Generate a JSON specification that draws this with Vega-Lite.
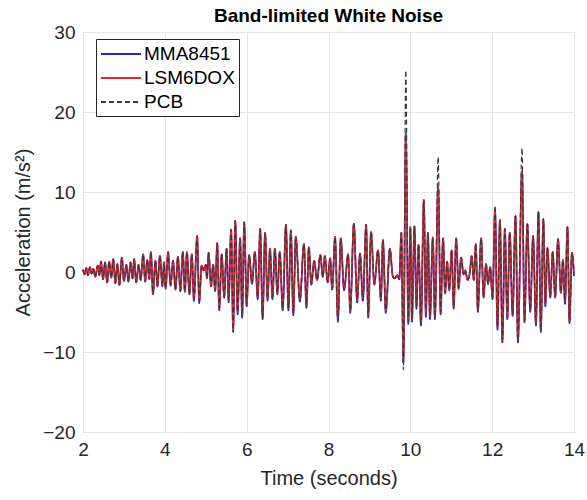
{
"$schema": "https://vega.github.io/schema/vega-lite/v6.json",
"width": 491, "height": 400,
"autosize": {"type": "none"},
"padding": {"left": 83, "top": 32, "right": 13, "bottom": 68},
"background": "white",
"title": {"text": "Band-limited White Noise", "font": "Liberation Sans", "fontSize": 19, "fontWeight": "bold", "color": "#000000", "anchor": "middle", "offset": -3},
"data": {"values": [
{"t":2.00,"MMA8451":0.3,"LSM6DOX":0.3,"PCB":0.3},
{"t":2.04,"MMA8451":-0.3,"LSM6DOX":-0.3,"PCB":-0.3},
{"t":2.08,"MMA8451":0.5,"LSM6DOX":0.5,"PCB":0.5},
{"t":2.12,"MMA8451":-0.4,"LSM6DOX":-0.4,"PCB":-0.4},
{"t":2.17,"MMA8451":0.6,"LSM6DOX":0.6,"PCB":0.6},
{"t":2.21,"MMA8451":-0.2,"LSM6DOX":-0.2,"PCB":-0.2},
{"t":2.25,"MMA8451":0.4,"LSM6DOX":0.4,"PCB":0.4},
{"t":2.30,"MMA8451":-0.6,"LSM6DOX":-0.6,"PCB":-0.6},
{"t":2.36,"MMA8451":0.8,"LSM6DOX":0.8,"PCB":0.8},
{"t":2.40,"MMA8451":-0.4,"LSM6DOX":-0.4,"PCB":-0.4},
{"t":2.44,"MMA8451":1.3,"LSM6DOX":1.3,"PCB":1.3},
{"t":2.49,"MMA8451":-0.9,"LSM6DOX":-0.9,"PCB":-0.9},
{"t":2.54,"MMA8451":1.2,"LSM6DOX":1.2,"PCB":1.2},
{"t":2.59,"MMA8451":-1.3,"LSM6DOX":-1.3,"PCB":-1.3},
{"t":2.64,"MMA8451":1.3,"LSM6DOX":1.3,"PCB":1.3},
{"t":2.69,"MMA8451":-0.7,"LSM6DOX":-0.7,"PCB":-0.7},
{"t":2.74,"MMA8451":1.6,"LSM6DOX":1.6,"PCB":1.6},
{"t":2.79,"MMA8451":-1.4,"LSM6DOX":-1.4,"PCB":-1.4},
{"t":2.84,"MMA8451":1.0,"LSM6DOX":1.0,"PCB":1.0},
{"t":2.89,"MMA8451":-1.6,"LSM6DOX":-1.6,"PCB":-1.6},
{"t":2.95,"MMA8451":1.8,"LSM6DOX":1.8,"PCB":1.8},
{"t":3.00,"MMA8451":-1.1,"LSM6DOX":-1.1,"PCB":-1.1},
{"t":3.06,"MMA8451":0.9,"LSM6DOX":0.9,"PCB":0.9},
{"t":3.11,"MMA8451":-1.2,"LSM6DOX":-1.2,"PCB":-1.2},
{"t":3.16,"MMA8451":1.2,"LSM6DOX":1.2,"PCB":1.2},
{"t":3.21,"MMA8451":-0.8,"LSM6DOX":-0.8,"PCB":-0.8},
{"t":3.25,"MMA8451":1.6,"LSM6DOX":1.6,"PCB":1.6},
{"t":3.30,"MMA8451":-1.3,"LSM6DOX":-1.3,"PCB":-1.3},
{"t":3.36,"MMA8451":0.9,"LSM6DOX":0.9,"PCB":0.9},
{"t":3.41,"MMA8451":-1.0,"LSM6DOX":-1.0,"PCB":-1.0},
{"t":3.47,"MMA8451":2.2,"LSM6DOX":2.2,"PCB":2.2},
{"t":3.52,"MMA8451":-1.2,"LSM6DOX":-1.2,"PCB":-1.2},
{"t":3.57,"MMA8451":1.5,"LSM6DOX":1.5,"PCB":1.5},
{"t":3.62,"MMA8451":-0.9,"LSM6DOX":-0.9,"PCB":-0.9},
{"t":3.66,"MMA8451":2.5,"LSM6DOX":2.5,"PCB":2.5},
{"t":3.71,"MMA8451":-2.8,"LSM6DOX":-2.6,"PCB":-2.6},
{"t":3.77,"MMA8451":1.4,"LSM6DOX":1.4,"PCB":1.4},
{"t":3.82,"MMA8451":-1.8,"LSM6DOX":-1.8,"PCB":-1.8},
{"t":3.88,"MMA8451":2.0,"LSM6DOX":2.0,"PCB":2.0},
{"t":3.94,"MMA8451":-1.8,"LSM6DOX":-1.7,"PCB":-1.7},
{"t":3.98,"MMA8451":1.2,"LSM6DOX":1.2,"PCB":1.2},
{"t":4.02,"MMA8451":-2.1,"LSM6DOX":-2.0,"PCB":-2.0},
{"t":4.08,"MMA8451":2.5,"LSM6DOX":2.5,"PCB":2.5},
{"t":4.14,"MMA8451":-1.7,"LSM6DOX":-1.6,"PCB":-1.6},
{"t":4.20,"MMA8451":1.4,"LSM6DOX":1.4,"PCB":1.4},
{"t":4.26,"MMA8451":-2.2,"LSM6DOX":-2.1,"PCB":-2.1},
{"t":4.32,"MMA8451":1.9,"LSM6DOX":1.9,"PCB":1.9},
{"t":4.38,"MMA8451":-2.4,"LSM6DOX":-2.3,"PCB":-2.3},
{"t":4.44,"MMA8451":2.5,"LSM6DOX":2.5,"PCB":2.5},
{"t":4.49,"MMA8451":-2.5,"LSM6DOX":-2.4,"PCB":-2.4},
{"t":4.54,"MMA8451":2.5,"LSM6DOX":2.5,"PCB":2.5},
{"t":4.60,"MMA8451":-2.8,"LSM6DOX":-2.7,"PCB":-2.7},
{"t":4.66,"MMA8451":2.2,"LSM6DOX":2.2,"PCB":2.2},
{"t":4.71,"MMA8451":-3.6,"LSM6DOX":-3.3,"PCB":-3.3},
{"t":4.79,"MMA8451":4.5,"LSM6DOX":4.5,"PCB":4.5},
{"t":4.84,"MMA8451":-3.9,"LSM6DOX":-3.6,"PCB":-3.6},
{"t":4.90,"MMA8451":0.8,"LSM6DOX":0.8,"PCB":0.8},
{"t":4.95,"MMA8451":0.2,"LSM6DOX":0.2,"PCB":0.2},
{"t":5.00,"MMA8451":0.9,"LSM6DOX":0.9,"PCB":0.9},
{"t":5.03,"MMA8451":-0.8,"LSM6DOX":-0.8,"PCB":-0.8},
{"t":5.07,"MMA8451":2.4,"LSM6DOX":2.4,"PCB":2.4},
{"t":5.13,"MMA8451":-1.8,"LSM6DOX":-1.8,"PCB":-1.8},
{"t":5.18,"MMA8451":0.9,"LSM6DOX":0.9,"PCB":0.9},
{"t":5.23,"MMA8451":-2.4,"LSM6DOX":-2.3,"PCB":-2.3},
{"t":5.28,"MMA8451":3.6,"LSM6DOX":3.6,"PCB":3.6},
{"t":5.33,"MMA8451":-4.8,"LSM6DOX":-4.5,"PCB":-4.5},
{"t":5.39,"MMA8451":2.2,"LSM6DOX":2.2,"PCB":2.2},
{"t":5.45,"MMA8451":-3.2,"LSM6DOX":-3.0,"PCB":-3.0},
{"t":5.51,"MMA8451":2.9,"LSM6DOX":2.9,"PCB":2.9},
{"t":5.56,"MMA8451":-3.8,"LSM6DOX":-3.5,"PCB":-3.5},
{"t":5.62,"MMA8451":5.3,"LSM6DOX":5.3,"PCB":5.3},
{"t":5.67,"MMA8451":-7.5,"LSM6DOX":-7.2,"PCB":-7.2},
{"t":5.72,"MMA8451":6.4,"LSM6DOX":6.4,"PCB":6.4},
{"t":5.78,"MMA8451":-5.3,"LSM6DOX":-5.0,"PCB":-5.0},
{"t":5.84,"MMA8451":4.2,"LSM6DOX":4.2,"PCB":4.2},
{"t":5.89,"MMA8451":-5.7,"LSM6DOX":-5.4,"PCB":-5.4},
{"t":5.94,"MMA8451":6.2,"LSM6DOX":6.2,"PCB":6.2},
{"t":6.00,"MMA8451":-4.3,"LSM6DOX":-4.0,"PCB":-4.0},
{"t":6.06,"MMA8451":2.1,"LSM6DOX":2.1,"PCB":2.1},
{"t":6.13,"MMA8451":-1.5,"LSM6DOX":-1.4,"PCB":-1.4},
{"t":6.20,"MMA8451":2.5,"LSM6DOX":2.5,"PCB":2.5},
{"t":6.27,"MMA8451":-3.4,"LSM6DOX":-3.1,"PCB":-3.1},
{"t":6.33,"MMA8451":5.4,"LSM6DOX":5.4,"PCB":5.4},
{"t":6.39,"MMA8451":-5.9,"LSM6DOX":-5.6,"PCB":-5.6},
{"t":6.45,"MMA8451":4.9,"LSM6DOX":4.9,"PCB":4.9},
{"t":6.51,"MMA8451":-3.6,"LSM6DOX":-3.3,"PCB":-3.3},
{"t":6.57,"MMA8451":2.9,"LSM6DOX":2.9,"PCB":2.9},
{"t":6.63,"MMA8451":-3.4,"LSM6DOX":-3.1,"PCB":-3.1},
{"t":6.69,"MMA8451":2.9,"LSM6DOX":2.9,"PCB":2.9},
{"t":6.75,"MMA8451":-2.8,"LSM6DOX":-2.6,"PCB":-2.6},
{"t":6.81,"MMA8451":2.5,"LSM6DOX":2.5,"PCB":2.5},
{"t":6.88,"MMA8451":-4.8,"LSM6DOX":-4.5,"PCB":-4.5},
{"t":6.96,"MMA8451":5.9,"LSM6DOX":5.9,"PCB":5.9},
{"t":7.02,"MMA8451":-4.8,"LSM6DOX":-4.5,"PCB":-4.5},
{"t":7.08,"MMA8451":5.2,"LSM6DOX":5.2,"PCB":5.2},
{"t":7.14,"MMA8451":-5.4,"LSM6DOX":-5.1,"PCB":-5.1},
{"t":7.20,"MMA8451":4.4,"LSM6DOX":4.4,"PCB":4.4},
{"t":7.30,"MMA8451":-3.7,"LSM6DOX":-3.4,"PCB":-3.4},
{"t":7.40,"MMA8451":3.5,"LSM6DOX":3.5,"PCB":3.5},
{"t":7.46,"MMA8451":-4.5,"LSM6DOX":-4.2,"PCB":-4.2},
{"t":7.52,"MMA8451":3.1,"LSM6DOX":3.1,"PCB":3.1},
{"t":7.58,"MMA8451":-1.6,"LSM6DOX":-1.5,"PCB":-1.5},
{"t":7.65,"MMA8451":1.4,"LSM6DOX":1.4,"PCB":1.4},
{"t":7.72,"MMA8451":-1.0,"LSM6DOX":-1.0,"PCB":-1.0},
{"t":7.80,"MMA8451":2.1,"LSM6DOX":2.1,"PCB":2.1},
{"t":7.86,"MMA8451":-0.6,"LSM6DOX":-0.6,"PCB":-0.6},
{"t":7.91,"MMA8451":2.0,"LSM6DOX":2.0,"PCB":2.0},
{"t":7.98,"MMA8451":-1.3,"LSM6DOX":-1.2,"PCB":-1.2},
{"t":8.04,"MMA8451":1.7,"LSM6DOX":1.7,"PCB":1.7},
{"t":8.09,"MMA8451":-2.2,"LSM6DOX":-2.1,"PCB":-2.1},
{"t":8.16,"MMA8451":4.4,"LSM6DOX":4.4,"PCB":4.4},
{"t":8.23,"MMA8451":-6.1,"LSM6DOX":-5.8,"PCB":-6.3},
{"t":8.30,"MMA8451":4.2,"LSM6DOX":4.2,"PCB":4.2},
{"t":8.38,"MMA8451":-2.3,"LSM6DOX":-2.2,"PCB":-2.2},
{"t":8.48,"MMA8451":2.2,"LSM6DOX":2.2,"PCB":2.2},
{"t":8.53,"MMA8451":-5.1,"LSM6DOX":-4.8,"PCB":-4.8},
{"t":8.62,"MMA8451":6.0,"LSM6DOX":6.0,"PCB":6.2},
{"t":8.70,"MMA8451":-3.8,"LSM6DOX":-3.5,"PCB":-3.5},
{"t":8.77,"MMA8451":2.3,"LSM6DOX":2.3,"PCB":2.3},
{"t":8.84,"MMA8451":-3.6,"LSM6DOX":-3.3,"PCB":-3.3},
{"t":8.92,"MMA8451":5.9,"LSM6DOX":5.9,"PCB":5.9},
{"t":8.97,"MMA8451":-5.7,"LSM6DOX":-5.4,"PCB":-5.4},
{"t":9.04,"MMA8451":5.0,"LSM6DOX":5.0,"PCB":5.0},
{"t":9.12,"MMA8451":-1.6,"LSM6DOX":-1.5,"PCB":-1.5},
{"t":9.21,"MMA8451":2.7,"LSM6DOX":2.7,"PCB":2.7},
{"t":9.28,"MMA8451":-3.6,"LSM6DOX":-3.3,"PCB":-3.3},
{"t":9.33,"MMA8451":4.0,"LSM6DOX":4.0,"PCB":4.0},
{"t":9.40,"MMA8451":-5.1,"LSM6DOX":-4.8,"PCB":-4.8},
{"t":9.50,"MMA8451":2.9,"LSM6DOX":2.9,"PCB":2.9},
{"t":9.57,"MMA8451":-0.5,"LSM6DOX":-0.5,"PCB":-0.5},
{"t":9.62,"MMA8451":-0.8,"LSM6DOX":-0.8,"PCB":-0.8},
{"t":9.68,"MMA8451":-0.4,"LSM6DOX":-0.4,"PCB":-0.4},
{"t":9.73,"MMA8451":-0.9,"LSM6DOX":-0.9,"PCB":-0.9},
{"t":9.78,"MMA8451":4.9,"LSM6DOX":4.9,"PCB":4.9},
{"t":9.83,"MMA8451":-11.3,"LSM6DOX":-11.0,"PCB":-12.2},
{"t":9.89,"MMA8451":17.3,"LSM6DOX":17.0,"PCB":25.2},
{"t":9.95,"MMA8451":-6.5,"LSM6DOX":-6.2,"PCB":-6.2},
{"t":10.00,"MMA8451":5.6,"LSM6DOX":5.6,"PCB":5.6},
{"t":10.04,"MMA8451":-6.2,"LSM6DOX":-5.9,"PCB":-5.9},
{"t":10.10,"MMA8451":5.7,"LSM6DOX":5.7,"PCB":5.7},
{"t":10.15,"MMA8451":-4.6,"LSM6DOX":-4.3,"PCB":-4.3},
{"t":10.20,"MMA8451":3.4,"LSM6DOX":3.4,"PCB":3.4},
{"t":10.26,"MMA8451":-6.7,"LSM6DOX":-6.4,"PCB":-6.4},
{"t":10.33,"MMA8451":9.0,"LSM6DOX":9.0,"PCB":9.0},
{"t":10.38,"MMA8451":-5.6,"LSM6DOX":-5.3,"PCB":-5.3},
{"t":10.43,"MMA8451":4.9,"LSM6DOX":4.9,"PCB":4.9},
{"t":10.48,"MMA8451":-5.9,"LSM6DOX":-5.6,"PCB":-5.6},
{"t":10.55,"MMA8451":4.3,"LSM6DOX":4.3,"PCB":4.3},
{"t":10.60,"MMA8451":-5.9,"LSM6DOX":-5.6,"PCB":-5.6},
{"t":10.68,"MMA8451":10.6,"LSM6DOX":10.5,"PCB":14.4},
{"t":10.74,"MMA8451":-5.3,"LSM6DOX":-5.0,"PCB":-5.0},
{"t":10.80,"MMA8451":4.2,"LSM6DOX":4.2,"PCB":4.2},
{"t":10.85,"MMA8451":-2.7,"LSM6DOX":-2.6,"PCB":-2.6},
{"t":10.90,"MMA8451":1.3,"LSM6DOX":1.3,"PCB":1.3},
{"t":10.95,"MMA8451":-2.3,"LSM6DOX":-2.2,"PCB":-2.2},
{"t":11.01,"MMA8451":2.7,"LSM6DOX":2.7,"PCB":2.7},
{"t":11.06,"MMA8451":-4.6,"LSM6DOX":-4.3,"PCB":-4.3},
{"t":11.12,"MMA8451":4.2,"LSM6DOX":4.2,"PCB":4.2},
{"t":11.18,"MMA8451":-2.1,"LSM6DOX":-2.0,"PCB":-2.0},
{"t":11.24,"MMA8451":1.8,"LSM6DOX":1.8,"PCB":1.8},
{"t":11.30,"MMA8451":-0.3,"LSM6DOX":-0.3,"PCB":-0.3},
{"t":11.34,"MMA8451":0.2,"LSM6DOX":0.2,"PCB":0.2},
{"t":11.40,"MMA8451":-1.0,"LSM6DOX":-1.0,"PCB":-1.0},
{"t":11.45,"MMA8451":-0.2,"LSM6DOX":-0.2,"PCB":-0.2},
{"t":11.50,"MMA8451":2.0,"LSM6DOX":2.0,"PCB":2.0},
{"t":11.55,"MMA8451":-1.0,"LSM6DOX":-1.0,"PCB":-1.0},
{"t":11.60,"MMA8451":3.5,"LSM6DOX":3.5,"PCB":3.5},
{"t":11.65,"MMA8451":-5.0,"LSM6DOX":-4.7,"PCB":-4.7},
{"t":11.73,"MMA8451":4.2,"LSM6DOX":4.2,"PCB":4.2},
{"t":11.79,"MMA8451":-3.2,"LSM6DOX":-3.0,"PCB":-3.0},
{"t":11.85,"MMA8451":1.0,"LSM6DOX":1.0,"PCB":1.0},
{"t":11.90,"MMA8451":-1.5,"LSM6DOX":-1.5,"PCB":-1.5},
{"t":11.95,"MMA8451":0.6,"LSM6DOX":0.6,"PCB":0.6},
{"t":12.01,"MMA8451":-3.4,"LSM6DOX":-3.1,"PCB":-3.1},
{"t":12.07,"MMA8451":7.8,"LSM6DOX":7.7,"PCB":8.3},
{"t":12.13,"MMA8451":-7.2,"LSM6DOX":-6.9,"PCB":-6.9},
{"t":12.19,"MMA8451":6.5,"LSM6DOX":6.5,"PCB":6.5},
{"t":12.25,"MMA8451":-8.8,"LSM6DOX":-8.5,"PCB":-8.5},
{"t":12.31,"MMA8451":5.4,"LSM6DOX":5.4,"PCB":5.4},
{"t":12.37,"MMA8451":-5.9,"LSM6DOX":-5.6,"PCB":-5.6},
{"t":12.43,"MMA8451":4.9,"LSM6DOX":4.9,"PCB":4.9},
{"t":12.50,"MMA8451":-5.5,"LSM6DOX":-5.2,"PCB":-5.2},
{"t":12.57,"MMA8451":7.0,"LSM6DOX":7.0,"PCB":7.0},
{"t":12.63,"MMA8451":-8.8,"LSM6DOX":-8.5,"PCB":-8.5},
{"t":12.73,"MMA8451":12.6,"LSM6DOX":12.5,"PCB":15.5},
{"t":12.79,"MMA8451":-6.3,"LSM6DOX":-6.0,"PCB":-6.0},
{"t":12.86,"MMA8451":6.0,"LSM6DOX":6.0,"PCB":6.0},
{"t":12.93,"MMA8451":-5.0,"LSM6DOX":-4.7,"PCB":-4.7},
{"t":13.00,"MMA8451":4.5,"LSM6DOX":4.5,"PCB":4.5},
{"t":13.07,"MMA8451":-6.7,"LSM6DOX":-6.4,"PCB":-6.4},
{"t":13.13,"MMA8451":7.5,"LSM6DOX":7.5,"PCB":7.5},
{"t":13.19,"MMA8451":-7.5,"LSM6DOX":-7.2,"PCB":-7.2},
{"t":13.25,"MMA8451":6.6,"LSM6DOX":6.6,"PCB":6.6},
{"t":13.30,"MMA8451":-4.3,"LSM6DOX":-4.0,"PCB":-4.0},
{"t":13.35,"MMA8451":3.0,"LSM6DOX":3.0,"PCB":3.0},
{"t":13.42,"MMA8451":-3.2,"LSM6DOX":-3.0,"PCB":-3.0},
{"t":13.48,"MMA8451":2.5,"LSM6DOX":2.5,"PCB":2.5},
{"t":13.54,"MMA8451":-3.2,"LSM6DOX":-3.0,"PCB":-3.0},
{"t":13.61,"MMA8451":4.1,"LSM6DOX":4.1,"PCB":4.1},
{"t":13.68,"MMA8451":-2.6,"LSM6DOX":-2.5,"PCB":-2.5},
{"t":13.73,"MMA8451":1.5,"LSM6DOX":1.5,"PCB":1.5},
{"t":13.78,"MMA8451":-4.0,"LSM6DOX":-3.7,"PCB":-3.7},
{"t":13.84,"MMA8451":5.6,"LSM6DOX":5.6,"PCB":5.6},
{"t":13.89,"MMA8451":-6.4,"LSM6DOX":-6.1,"PCB":-6.1},
{"t":13.95,"MMA8451":2.4,"LSM6DOX":2.4,"PCB":2.4},
{"t":14.00,"MMA8451":-0.5,"LSM6DOX":-0.5,"PCB":-0.5}
]},
"transform": [{"fold": ["MMA8451", "LSM6DOX", "PCB"], "as": ["series", "value"]}],
"encoding": {
  "x": {"field": "t", "type": "quantitative", "scale": {"domain": [2, 14], "nice": false, "zero": false},
        "axis": {"values": [2, 4, 6, 8, 10, 12, 14], "title": "Time (seconds)", "labelPadding": 8, "titlePadding": 9, "labelFlush": false}},
  "y": {"field": "value", "type": "quantitative", "scale": {"domain": [-20, 30], "nice": false},
        "axis": {"values": [-20, -10, 0, 10, 20, 30], "title": "Acceleration (m/s²)", "labelPadding": 8, "titlePadding": 9, "labelFlush": false}},
  "color": {"field": "series", "type": "nominal",
            "scale": {"domain": ["MMA8451", "LSM6DOX", "PCB"], "range": ["#2323c8", "#e8262b", "#3a3a3a"]},
            "legend": {"title": null, "orient": "none", "legendX": 13, "legendY": 7}},
  "strokeDash": {"field": "series", "type": "nominal",
            "scale": {"domain": ["MMA8451", "LSM6DOX", "PCB"], "range": [[1, 0], [1, 0], [5, 3]]},
            "legend": {"title": null, "orient": "none", "legendX": 13, "legendY": 7}}
},
"layer": [
  {"transform": [{"filter": "datum.series === 'MMA8451'"}], "mark": {"type": "line", "strokeWidth": 1.7, "interpolate": "monotone"}},
  {"transform": [{"filter": "datum.series === 'LSM6DOX'"}], "mark": {"type": "line", "strokeWidth": 1.6, "interpolate": "monotone"}},
  {"transform": [{"filter": "datum.series === 'PCB'"}], "mark": {"type": "line", "strokeWidth": 1.2, "interpolate": "monotone"}}
],
"config": {
  "font": "Liberation Sans",
  "view": {"stroke": "#8c8c8c", "strokeWidth": 1},
  "axis": {"domain": false, "ticks": false, "grid": true, "gridColor": "#e6e6e6", "gridWidth": 1,
           "labelFont": "Liberation Sans", "labelFontSize": 19, "labelColor": "#262626",
           "titleFont": "Liberation Sans", "titleFontSize": 20, "titleFontWeight": "normal", "titleColor": "#262626"},
  "legend": {"symbolType": "M-1,0L3,0", "symbolSize": 400, "symbolStrokeWidth": 2,
             "labelFont": "Liberation Sans", "labelFontSize": 19, "labelColor": "#000000",
             "strokeColor": "#262626", "fillColor": "#ffffff", "padding": 4, "rowPadding": 3, "labelOffset": 22, "cornerRadius": 0}
}
}
